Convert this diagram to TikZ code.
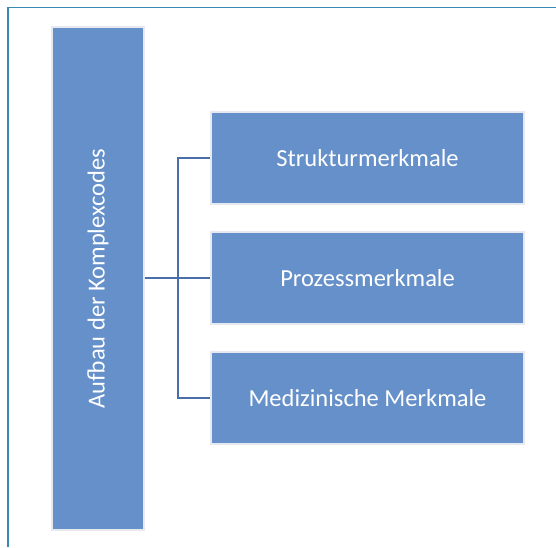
\documentclass[tikz,border=0pt]{standalone}
\usepackage{fontspec}
\setmainfont{Carlito}
\definecolor{boxfill}{HTML}{6590C9}
\definecolor{boxedge}{HTML}{E6EAF0}
\definecolor{linecol}{HTML}{4A6FA8}
\definecolor{framecol}{HTML}{3A88B6}
\begin{document}
\begin{tikzpicture}[x=1pt,y=-1pt,
  bluebox/.style={draw=boxedge,line width=1.5pt,fill=boxfill,text=white,inner sep=0pt,font=\fontsize{24.5}{28}\selectfont},
  conn/.style={draw=linecol,line width=2pt}]
\useasboundingbox (0,0) rectangle (556,547);
\draw[framecol,line width=1.5pt] (556,7.5) -- (8,7.5) -- (8,547);
\node[bluebox,minimum width=92pt,minimum height=503pt] (main) at (98,278.5) {};
\node[white,rotate=90,font=\fontsize{24.5}{28}\selectfont] (maintext) at (main.center) {Aufbau der Komplexcodes};
\node[bluebox,minimum width=313pt,minimum height=92pt] (s) at (367.5,158) {Strukturmerkmale};
\node[bluebox,minimum width=313pt,minimum height=92pt] (p) at (367.5,278) {Prozessmerkmale};
\node[bluebox,minimum width=313pt,minimum height=92pt] (m) at (367.5,398) {Medizinische Merkmale};
\coordinate (j) at (178,278);
\draw[conn] (main.east |- j) -- (p.west);
\draw[conn] (s.west) -- (s.west -| j) -- (m.west -| j) -- (m.west);
\end{tikzpicture}
\end{document}
